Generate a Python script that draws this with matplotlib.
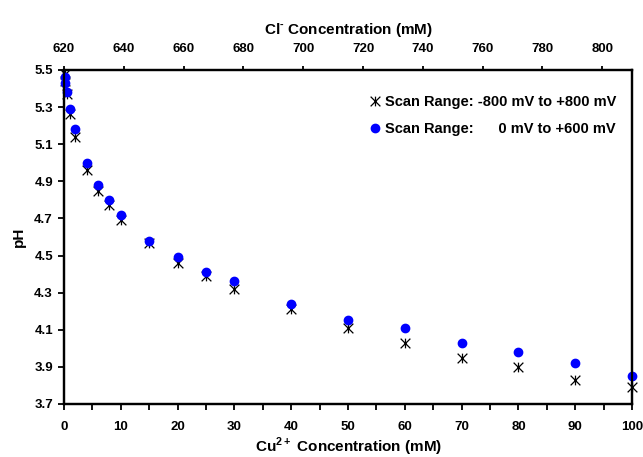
import matplotlib.pyplot as plt
import numpy as np
from matplotlib.path import Path

plt.rcParams['font.family'] = ['Liberation Sans', 'DejaVu Sans']
plt.rcParams['font.weight'] = 'bold'
plt.rcParams['mathtext.fontset'] = 'custom'
plt.rcParams['mathtext.rm'] = 'Liberation Sans:bold'
plt.rcParams['mathtext.bf'] = 'Liberation Sans:bold'

# Cu2+ concentration (mM) and measured pH for the two scan ranges
cu = [0.1, 0.25, 0.5, 1, 2, 4, 6, 8, 10, 15, 20, 25, 30, 40, 50, 60, 70, 80, 90, 100]
ph_wide = [5.48, 5.44, 5.37, 5.26, 5.14, 4.96, 4.85, 4.77, 4.69, 4.57, 4.46, 4.39,
           4.32, 4.21, 4.11, 4.03, 3.95, 3.90, 3.83, 3.79]
ph_narrow = [5.46, 5.43, 5.38, 5.29, 5.18, 5.00, 4.88, 4.80, 4.72, 4.58, 4.49, 4.41,
             4.36, 4.24, 4.15, 4.11, 4.03, 3.98, 3.92, 3.85]

cl_lim = (620, 810)
cl_ticks = [620, 640, 660, 680, 700, 720, 740, 760, 780, 800]

# X with a vertical bar through it
star = Path([(-1, -1), (1, 1), (-1, 1), (1, -1), (0, -1), (0, 1)],
            [Path.MOVETO, Path.LINETO, Path.MOVETO, Path.LINETO, Path.MOVETO, Path.LINETO])

fig = plt.figure(figsize=(6.43, 4.57), dpi=100)
ax = fig.add_axes([0.0996, 0.116, 0.8834, 0.731])

ax.plot(cu, ph_wide, linestyle='none', marker=star, markersize=7, markeredgewidth=0.9,
        color='black', clip_on=False, zorder=3,
        label='Scan Range: -800 mV to +800 mV')
ax.plot(cu, ph_narrow, linestyle='none', marker='o', markersize=6,
        color='#0000ff', markeredgecolor='#0000ff', clip_on=False, zorder=4,
        label='Scan Range:      0 mV to +600 mV')

ax.set_xlim(0, 100)
ax.set_ylim(3.7, 5.5)
ax.set_xticks(np.arange(0, 101, 10))
ax.set_xticks(np.arange(5, 100, 10), minor=True)
yt = np.arange(3.7, 5.51, 0.2)
ax.set_yticks(yt)
ax.set_yticklabels(['%.1f' % v for v in yt])
ax.tick_params(axis='x', which='both', direction='out', length=4, width=1.3,
               labelsize=9.5, pad=8)
ax.tick_params(axis='y', direction='out', length=4, width=1.3, labelsize=9.5, pad=4)
for lab in ax.get_xticklabels() + ax.get_yticklabels():
    lab.set_fontweight('bold')

ax.set_xlabel('Cu$^{2+}$ Concentration (mM)', fontsize=11, fontweight='bold', labelpad=2)
ax.set_ylabel('pH', fontsize=11, fontweight='bold', labelpad=6)

for s in ax.spines.values():
    s.set_linewidth(1.6)

ax2 = ax.twiny()
ax2.set_xlim(*cl_lim)
ax2.set_xticks(cl_ticks)
ax2.tick_params(axis='x', direction='out', length=3, width=1.3, labelsize=9.5, pad=8)
for lab in ax2.get_xticklabels():
    lab.set_fontweight('bold')
ax2.set_xlabel('Cl$^{\u2010}$ Concentration (mM)', fontsize=11, fontweight='bold', labelpad=6)
for s in ax2.spines.values():
    s.set_linewidth(1.6)

ax.legend(loc='upper right', bbox_to_anchor=(0.995, 0.965), frameon=False, fontsize=10.5,
          handletextpad=0.15, handlelength=1.0, labelspacing=0.9)

plt.savefig('out.png', dpi=100)
